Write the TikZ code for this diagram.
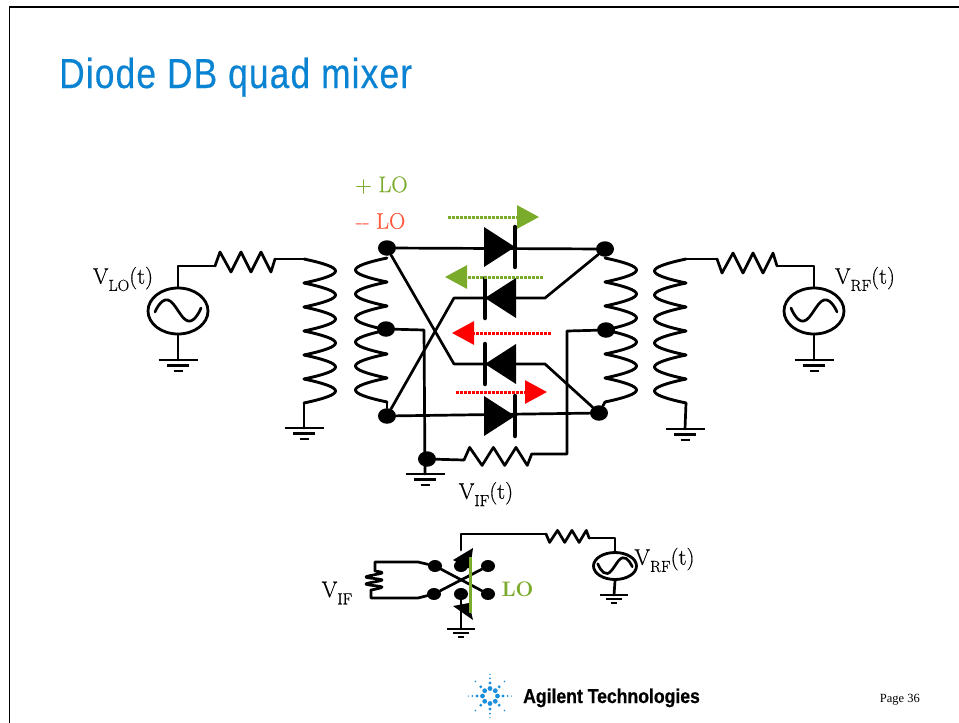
\documentclass[tikz,border=0pt]{standalone}
\usepackage{fontspec}
\usetikzlibrary{positioning,shapes.geometric,arrows.meta}
\newfontfamily\titlefont[FakeStretch=0.84,LetterSpace=2.8,FakeBold=0.4]{Liberation Sans}
\newfontfamily\logofont[FakeStretch=0.88,FakeBold=0.6]{Liberation Sans}
\newfontfamily\pagefont{Liberation Serif}
\newfontfamily\labelfont[FakeBold=0.5]{Latin Modern Roman}
\definecolor{titleblue}{HTML}{0A84D2}
\definecolor{logblue}{HTML}{1C8FDC}
\definecolor{logreen}{HTML}{7AAB2A}
\definecolor{minuslo}{HTML}{FF5A3C}
\newcommand{\volt}[2]{V\raisebox{-.32em}{\fontsize{16}{16}\selectfont #1}#2}
\tikzset{
  wire/.style={line width=2.7pt,line cap=round,line join=round},
  dot/.style={ellipse,fill=black,inner sep=0pt,minimum width=18pt,minimum height=15.5pt},
  smalldot/.style={ellipse,fill=black,inner sep=0pt,minimum width=14pt,minimum height=12pt},
  source/.style={ellipse,draw,line width=2.8pt,inner sep=0pt,minimum width=60pt,minimum height=46pt},
  label/.style={font=\labelfont\fontsize{22.5}{22.5}\selectfont,inner sep=0pt},
  flow/.style={line width=3pt,dash pattern=on 3pt off 1pt,-{Triangle[length=22pt,width=23pt]}},
  coil/.pic={
    \foreach \i in {0,...,5}
      \draw[wire,line width=2.9pt] (0,24*\i) .. controls (-42,24*\i+9) and (-42,24*\i+15) .. (0,24*\i+24);
  },
  resistor/.pic={
    \draw[wire] (0,0) -- (5,-14) -- (16,6) -- (26,-14) -- (36,6) -- (46,-14) -- (56,6) -- (60,-7);
  },
  ground/.pic={
    \draw[wire,line cap=butt] (-19.5,0) -- (19.5,0);
    \draw[wire,line cap=butt] (-11,5.5) -- (11,5.5);
    \draw[wire,line cap=butt] (-4.5,11) -- (4.5,11);
  },
  sine/.pic={
    \draw[wire] plot[smooth,tension=.8] coordinates {(-23,1) (-10,-11) (10,10) (23,-3)};
  },
  diode/.pic={
    \fill (-31,-20) -- (-31,20) -- (0,0) -- cycle;
    \draw[line width=4.5pt,line cap=round] (0,-20) -- (0,20);
  }
}
\begin{document}
\begin{tikzpicture}[x=1pt,y=-1pt]
  \useasboundingbox (0,0) rectangle (959,723);
  \fill[white] (0,0) rectangle (959,723);
  % slide frame and title
  \draw[line width=2pt] (9,6.5) -- (959,6.5);
  \draw[line width=1pt] (9.7,6.5) -- (9.7,723);
  \node[anchor=base west,inner sep=0pt,text=titleblue,font=\titlefont\fontsize{42}{42}\selectfont] (title) at (59,88) {Diode DB quad mixer};

  % Define the nodes of the bridge
  \node[dot] (tl) at (387,248) {};
  \node[dot] (tr) at (605,249) {};
  \node[dot] (ml) at (386,329) {};
  \node[dot] (mr) at (606,330) {};
  \node[dot] (bl) at (387,416) {};
  \node[dot] (br) at (599,413) {};
  \node[dot] (ifdot) at (427,459) {};

  \coordinate (d2r) at (545,298);
  \coordinate (d2l) at (454,298);
  \coordinate (d3l) at (454,364);
  \coordinate (d3r) at (545,364);
  \coordinate (mlc) at (424,330);
  \coordinate (mrc) at (567,331);
  \coordinate (ifg) at (425,474);
  \coordinate (ifr) at (464,460);
  \coordinate (ifs) at (533,454);
  \coordinate (ifc) at (567,454);

  \draw[wire] (tl) -- (tr);
  \draw[wire] (bl) -- (br);
  \draw[wire] (tr) -- (d2r) -- (d2l) -- (bl);
  \draw[wire] (tl) -- (d3l) -- (d3r) -- (br);
  \draw[wire] (ml) -- (mlc) -- (ifg);
  \draw[wire] (mr) -- (mrc) -- (ifc) -- (ifs);
  \draw[wire] (ifdot) -- (ifr);
  \pic at (464,460) [xscale=1.13,yscale=.9] {resistor};
  \pic at (425,474) {ground};

  \pic at (515,247) {diode};
  \pic at (485,298) [xscale=-1] {diode};
  \pic at (485,364) [xscale=-1] {diode};
  \pic at (515,416) {diode};

  % the two inner windings
  \pic at (387,258) {coil};
  \pic at (605,258) [xscale=-1] {coil};
  \coordinate (lie) at (387,402);
  \coordinate (rie) at (605,402);
  \draw[wire] (rie) -- (br);
  \draw[wire] (lie) -- (bl);

  % LO side
  \node[source] (slo) at (178,311) {};
  \pic at (178,311) {sine};
  \coordinate (rloa) at (215,266);
  \coordinate (rlob) at (275,259);
  \coordinate (clot) at (304,259);
  \coordinate (clob) at (304,403);
  \coordinate (glo) at (304,428);
  \coordinate (gslo) at (178,360);
  \draw[wire] (slo.north) |- (rloa);
  \pic at (215,266) {resistor};
  \draw[wire] (rlob) -- (clot);
  \pic at (304,259) [xscale=-1] {coil};
  \draw[wire] (clob) -- (glo);
  \draw[wire] (slo.south) -- (gslo);
  \pic at (glo) {ground};
  \pic at (gslo) {ground};

  % RF side
  \node[source] (srf) at (814,311) {};
  \pic at (814,311) [xscale=-1] {sine};
  \coordinate (crft) at (686,259);
  \coordinate (crfb) at (686,403);
  \coordinate (rrfa) at (717,259);
  \coordinate (rrfb) at (778,266);
  \coordinate (grf) at (685,429);
  \coordinate (gsrf) at (814,360);
  \pic at (686,259) {coil};
  \draw[wire] (crft) -- (rrfa);
  \pic at (717,259) [yscale=-1] {resistor};
  \draw[wire] (rrfb) -| (srf.north);
  \draw[wire] (crfb) -- (grf);
  \draw[wire] (srf.south) -- (gsrf);
  \pic at (grf) {ground};
  \pic at (gsrf) {ground};

  % LO current arrows
  \coordinate (a1s) at (448,217);
  \coordinate (a1e) at (539,217);
  \coordinate (a2s) at (543,277);
  \coordinate (a2e) at (445,277);
  \coordinate (a3s) at (551,333);
  \coordinate (a3e) at (452,333);
  \coordinate (a4s) at (456,392);
  \coordinate (a4e) at (547,392);
  \draw[flow,logreen] (a1s) -- (a1e);
  \draw[flow,logreen] (a2s) -- (a2e);
  \draw[flow,red] (a3s) -- (a3e);
  \draw[flow,red] (a4s) -- (a4e);

  \node[label,text=logreen] (plus) at (381.5,185) {+ LO};
  \node[label,text=minuslo] (minus) at (380.5,221) {-- LO};
  \node[label] (vlo) at (123,279) {\volt{LO}{(t)}};
  \node[label] (vrf) at (865,279) {\volt{RF}{(t)}};
  \node[label] (vif) at (486,494) {\volt{IF}{(t)}};

  % small circuit below
  \node[smalldot] (ul) at (435,566) {};
  \node[smalldot] (ll) at (434,594) {};
  \node[smalldot] (ur) at (488,566) {};
  \node[smalldot] (lr) at (488,594) {};
  \node[smalldot] (um) at (461,566) {};
  \node[smalldot] (lm) at (461,594) {};
  \draw[wire] (ul) -- (lr);
  \draw[wire] (ll) -- (ur);
  \fill (473,548) -- (453,560) -- (470,569) -- cycle;
  \fill (469,603) -- (453,606) -- (473,620) -- cycle;
  \draw[logreen,line width=3pt] (470,557) -- (470,613);

  \coordinate (lfa) at (418,562);
  \coordinate (lfb) at (375,562);
  \coordinate (lfc) at (375,571);
  \coordinate (lfd) at (371,590);
  \coordinate (lfe) at (371,598);
  \coordinate (lff) at (418,598);
  \draw[wire] (ul) -- (lfa) -- (lfb) -- (lfc);
  \draw[wire] plot[smooth,tension=.6] coordinates {(lfc) (382,573) (366,577) (382,580) (366,584) (382,587) (lfd)};
  \draw[wire] (lfd) -- (lfe) -- (lff) -- (ll);

  \coordinate (uta) at (461,550);
  \coordinate (utb) at (461,534);
  \coordinate (sra) at (546,534);
  \coordinate (srb) at (589,538);
  \coordinate (sgd) at (461,629);
  \coordinate (sgs) at (614,595);
  \node[source,minimum width=43pt,minimum height=27pt] (srs) at (615,566) {};
  \pic at (615,566) [xscale=-.75,yscale=.75] {sine};
  \draw[wire] (uta) -- (utb) -- (sra);
  \pic at (546,534) [xscale=.72,yscale=-.6] {resistor};
  \draw[wire] (srb) -| (srs.north);
  \draw[wire] (srs.south) -- (sgs);
  \draw[wire] (lm) -- (sgd);
  \pic at (sgd) [scale=.72] {ground};
  \pic at (sgs) [scale=.72] {ground};

  \node[label] (vifs) at (337,593) {\volt{IF}{}};
  \node[label] (vrfs) at (664.5,560) {\volt{RF}{(t)}};
  \node[label,text=logreen,font=\fontsize{21}{21}\selectfont\bfseries] (lolabel) at (517.5,589) {LO};

  % logo and footer
  \begin{scope}[shift={(490,696)}]
    \foreach \a in {0,45,...,315} {
      \fill[logblue] (\a:7.5) circle (2.4);
      \fill[logblue] (\a:13) circle (1.6);
    }
    \foreach \a in {45,135,225,315} {
      \fill[logblue] (\a:20.5) circle (.9);
    }
    \foreach \a in {0,90,180,270} {
      \fill[logblue] (\a:17.7) circle (1);
      \fill[logblue] (\a:21.7) circle (.7);
    }
  \end{scope}
  \node[anchor=base west,inner sep=0pt,font=\logofont\bfseries\fontsize{20}{20}\selectfont] (agilent) at (523,703) {Agilent Technologies};
  \node[anchor=base east,inner sep=0pt,font=\pagefont\fontsize{12.5}{12.5}\selectfont] (page) at (920,702) {Page 36};
\end{tikzpicture}
\end{document}
